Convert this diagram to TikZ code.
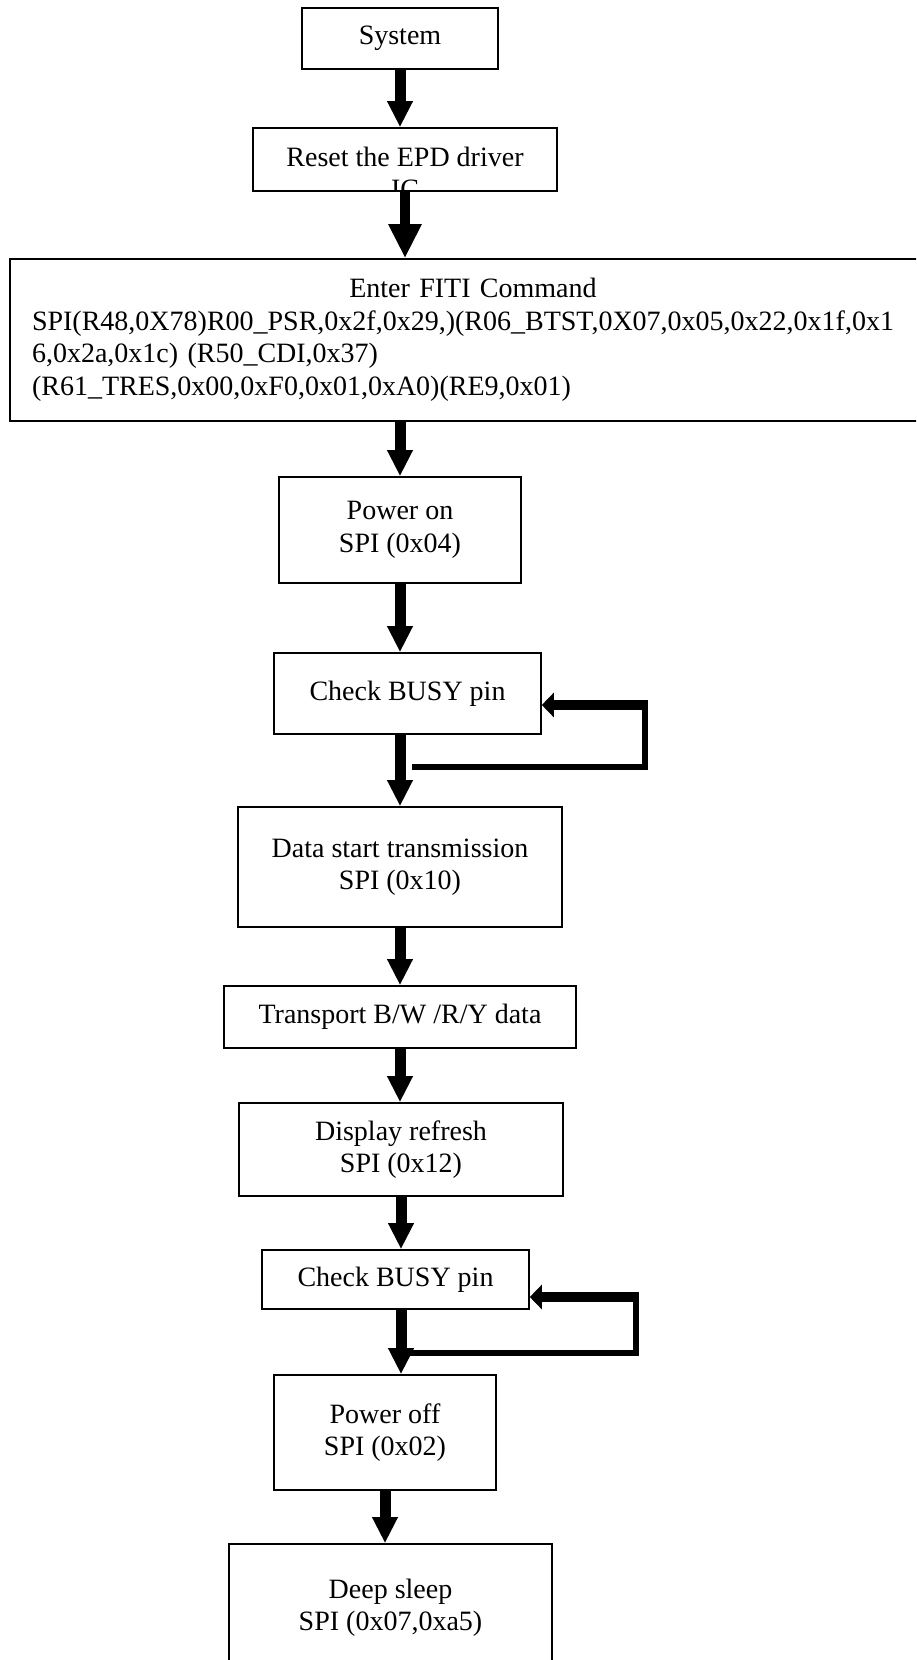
\documentclass[tikz,border=0pt]{standalone}
\usepackage{fontspec}
\setmainfont{Liberation Serif}
\usetikzlibrary{arrows.meta,calc}
\tikzset{
    stepbox/.style={draw, line width=1.6pt, inner sep=0pt, align=center,
        font=\fontsize{28}{32.5}\selectfont},
    flow/.style={line width=11pt, -{Triangle[length=26pt,width=24pt]}},
    flow big/.style={line width=10pt, -{Triangle[length=34pt,width=31pt]}},
    loop line/.style={line width=5.5pt},
    loop back/.style={line width=10.5pt, -{Triangle[length=12pt,width=24pt]}},
}

\begin{document}
\begin{tikzpicture}[x=1pt,y=-1pt]% one unit is one pixel of the page
\useasboundingbox (0,0) rectangle (916,1660);
\clip (0,0) rectangle (916,1660);

\node[stepbox, minimum width=196pt, minimum height=61pt] (sys) at (400,38.5) {System};
\node[stepbox, minimum width=304pt, minimum height=63pt] (reset) at (405,159.5) {};
\scope
\clip (reset.south west) rectangle (reset.north east);
\node[font=\fontsize{28}{32.5}\selectfont, align=center] (resettext) at (405,173) {Reset the EPD driver\\IC};
\endscope
\node[stepbox, minimum width=926pt, minimum height=162pt, text width=882pt, align=left] (fiti) at (473,340)
    {\makebox[882pt]{Enter FITI Command}\\
     SPI(R48,0X78)R00\_PSR,0x2f,0x29,)(R06\_BTST,0X07,0x05,0x22,0x1f,0x1\\
     6,0x2a,0x1c) (R50\_CDI,0x37)\\
     (R61\_TRES,0x00,0xF0,0x01,0xA0)(RE9,0x01)};
\node[stepbox, minimum width=242pt, minimum height=106pt] (pwron) at (400,530) {Power on\\SPI (0x04)};
\node[stepbox, minimum width=267pt, minimum height=81pt] (busyA) at (407.5,693.5) {Check BUSY pin};
\node[stepbox, minimum width=324pt, minimum height=120pt] (data) at (400,867) {Data start transmission\\SPI (0x10)};
\node[stepbox, minimum width=352pt, minimum height=62pt] (trans) at (400,1017) {Transport B/W /R/Y data};
\node[stepbox, minimum width=324pt, minimum height=93pt] (refresh) at (401,1149.5) {Display refresh\\SPI (0x12)};
\node[stepbox, minimum width=267pt, minimum height=59pt] (busyB) at (395.5,1279.5) {Check BUSY pin};
\node[stepbox, minimum width=222pt, minimum height=115pt] (poff) at (385,1432.5) {Power off\\SPI (0x02)};
\node[stepbox, minimum width=323pt, minimum height=127pt] (sleep) at (390.5,1607.5) {Deep sleep\\SPI (0x07,0xa5)};

\draw[flow] (sys.south) -- (sys.south |- reset.north);
\draw[flow big] (reset.south) -- (reset.south |- fiti.north);
\draw[flow] (pwron.north |- fiti.south) -- (pwron.north);
\draw[flow] (pwron.south) -- (pwron.south |- busyA.north);
\draw[flow] (data.north |- busyA.south) -- (data.north);
\draw[flow] (data.south) -- (data.south |- trans.north);
\draw[flow] (trans.south) -- (trans.south |- refresh.north);
\draw[flow] (refresh.south) -- (refresh.south |- busyB.north);
\draw[flow] (refresh.south |- busyB.south) -- (refresh.south |- poff.north);
\draw[flow] (poff.south) -- (poff.south |- sleep.north);

% busy loops
\coordinate (retA) at (412,767);
\coordinate (turnA) at (645,705);
\draw[loop line] (retA) -| (turnA);
\draw[loop back] ([xshift=2.75pt]turnA) -- (turnA -| busyA.east);
\coordinate (retB) at (407,1353);
\coordinate (turnB) at (636,1297);
\draw[loop line] (retB) -| (turnB);
\draw[loop back] ([xshift=2.75pt]turnB) -- (turnB -| busyB.east);
\end{tikzpicture}
\end{document}
